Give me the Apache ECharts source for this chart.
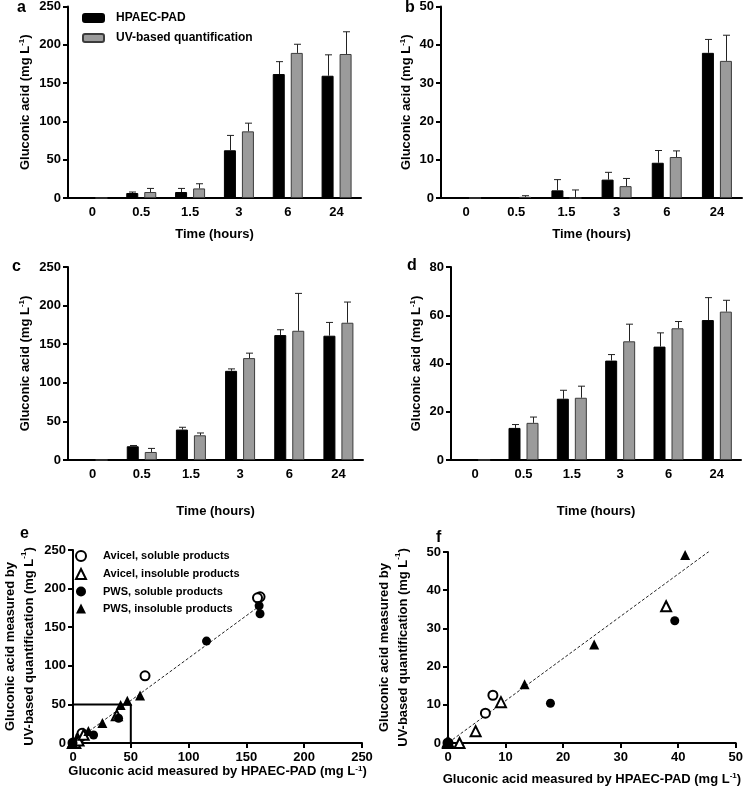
<!DOCTYPE html>
<html><head><meta charset="utf-8">
<script src="https://cdn.jsdelivr.net/npm/echarts@6/dist/echarts.min.js"></script>
<style>html,body{margin:0;padding:0;background:#fff}#c{width:746px;height:793px}</style>
</head><body><div id="c"></div>
<script>
const categories = ['0', '0.5', '1.5', '3', '6', '24'];
// panel a (Avicel, soluble products)
const aHpaec = [0, 6.5, 7.8, 62.3, 161.8, 159.6];
const aHpaecErr = [0, 1.3, 4.7, 19.4, 16.2, 27.3];
const aUv = [0, 7.8, 12.5, 87.0, 189.4, 188.0];
const aUvErr = [0, 4.7, 6.1, 10.7, 11.3, 29.0];
// panel b (Avicel, insoluble products)
const bHpaec = [0, 0, 2.0, 4.8, 9.2, 37.9];
const bHpaecErr = [0, 0, 2.8, 1.9, 3.2, 3.5];
const bUv = [0, 0.3, 0, 3.1, 10.7, 35.8];
const bUvErr = [0, 0.3, 2.1, 2.0, 1.6, 6.7];
// panel c (PWS, soluble products)
const cHpaec = [0, 17.8, 39.4, 115.5, 161.8, 161.0];
const cHpaecErr = [0, 1.0, 3.0, 2.5, 6.9, 17.2];
const cUv = [0, 10.4, 32.0, 132.0, 167.4, 177.8];
const cUvErr = [0, 4.6, 3.0, 6.4, 48.4, 26.8];
// panel d (PWS, insoluble products)
const dHpaec = [0, 13.3, 25.4, 41.2, 47.0, 58.0];
const dHpaecErr = [0, 1.4, 3.5, 2.5, 5.7, 9.3];
const dUv = [0, 15.4, 25.8, 49.2, 54.6, 61.5];
const dUvErr = [0, 2.4, 4.8, 7.1, 2.8, 4.7];
// regression line (e, f)
const fitE = [[0, 0], [160, 176]];
const fitF = [[0.8, 0.9], [45.4, 50.2]];
const zoomBox = [[0, 50], [50, 50], [50, 0]];

const FONT = 'Liberation Sans';
const names = ['HPAEC-PAD', 'UV-based quantification'];
const scNames = ['Avicel, soluble products', 'Avicel, insoluble products', 'PWS, soluble products', 'PWS, insoluble products'];

const grids = [
  {left: 68, top: 6, width: 293, height: 192},
  {left: 441, top: 6, width: 301, height: 192},
  {left: 68, top: 267, width: 295, height: 193},
  {left: 451, top: 267, width: 290, height: 193},
  {left: 71, top: 550, width: 291, height: 193},
  {left: 448, top: 552, width: 290, height: 191}
];

const axisLine = {lineStyle: {color: '#000', width: 2}};
const axisTick = {length: 5, lineStyle: {color: '#000', width: 2}};
const lbl = {color: '#000', fontFamily: FONT, fontWeight: 'bold', fontSize: 13};
const supRich = {sup: {fontSize: 8, fontWeight: 'bold', fontFamily: FONT, color: '#000', verticalAlign: 'top', padding: [0, 0, 6, 0]}};
const nameStyle = {color: '#000', fontFamily: FONT, fontWeight: 'bold', fontSize: 13, rich: supRich};
const nameStyle2 = {color: '#000', fontFamily: FONT, fontWeight: 'bold', fontSize: 13, lineHeight: 19, rich: supRich};

function catAxis(gi, gap) {
  return {type: 'category', gridIndex: gi, data: categories, axisLine, axisTick: Object.assign({alignWithLabel: true}, axisTick),
    axisLabel: Object.assign({margin: 8}, lbl), name: 'Time (hours)', nameLocation: 'middle', nameGap: gap,
    nameTextStyle: nameStyle};
}
function valAxis(gi, max, interval, name, gap, ns) {
  return {type: 'value', gridIndex: gi, min: 0, max, interval, axisLine: Object.assign({show: true}, axisLine),
    axisTick: Object.assign({show: true}, axisTick), splitLine: {show: false},
    axisLabel: Object.assign({margin: 7}, lbl), name, nameLocation: 'middle', nameGap: gap, nameTextStyle: ns || nameStyle};
}

const yName = 'Gluconic acid (mg L{sup|-1})';
const xAxes = [catAxis(0, 30), catAxis(1, 30), catAxis(2, 45), catAxis(3, 45),
  {type: 'value', gridIndex: 4, min: 0, max: 250, interval: 50, axisLine, axisTick, splitLine: {show: false},
    axisLabel: Object.assign({margin: 8}, lbl), name: 'Gluconic acid measured by HPAEC-PAD (mg L{sup|-1})',
    nameLocation: 'middle', nameGap: 13, nameTextStyle: nameStyle},
  {type: 'value', gridIndex: 5, min: 0, max: 50, interval: 10, axisLine, axisTick, splitLine: {show: false},
    axisLabel: Object.assign({margin: 8}, lbl), name: 'Gluconic acid measured by HPAEC-PAD (mg L{sup|-1})',
    nameLocation: 'middle', nameGap: 29, nameTextStyle: nameStyle}];
const yName2 = 'Gluconic acid measured by\nUV-based quantification (mg L{sup|-1})';
const yAxes = [valAxis(0, 250, 50, yName, 36), valAxis(1, 50, 10, yName, 28),
  valAxis(2, 250, 50, yName, 36), valAxis(3, 80, 20, yName, 28),
  valAxis(4, 250, 50, yName2, 34, nameStyle2), valAxis(5, 50, 10, yName2, 35, nameStyle2)];

const blackStyle = {color: '#000', borderColor: '#000', borderWidth: 1};
const grayStyle = {color: '#9b9b9b', borderColor: '#3c3c3c', borderWidth: 1};

function bar(gi, name, vals, style) {
  return {type: 'bar', name, xAxisIndex: gi, yAxisIndex: gi, data: vals, barWidth: 12, barGap: '50%',
    itemStyle: style, silent: true, animation: false};
}
function err(gi, vals, errs, offset) {
  return {type: 'custom', xAxisIndex: gi, yAxisIndex: gi, animation: false, silent: true, z: 5,
    data: vals.map((v, i) => [i, v, v + errs[i], errs[i]]),
    encode: {x: 0, y: [1, 2]},
    renderItem: function (params, api) {
      if (api.value(3) <= 0) return null;
      const p0 = api.coord([api.value(0), api.value(1)]);
      const p1 = api.coord([api.value(0), api.value(2)]);
      const x = Math.round(p0[0] + offset) + 0.5;
      const st = {stroke: '#222', lineWidth: 1};
      return {type: 'group', children: [
        {type: 'line', shape: {x1: x, y1: p0[1], x2: x, y2: p1[1]}, style: st},
        {type: 'line', shape: {x1: x - 3.5, y1: p1[1], x2: x + 3.5, y2: p1[1]}, style: st}
      ]};
    }};
}

const panels = [[aHpaec, aHpaecErr, aUv, aUvErr], [bHpaec, bHpaecErr, bUv, bUvErr],
  [cHpaec, cHpaecErr, cUv, cUvErr], [dHpaec, dHpaecErr, dUv, dUvErr]];
const series = [];
panels.forEach((p, gi) => {
  series.push(bar(gi, names[0], p[0], blackStyle));
  series.push(bar(gi, names[1], p[2], grayStyle));
  series.push(err(gi, p[0], p[1], -9));
  series.push(err(gi, p[2], p[3], 9));
});

const scStyles = [
  {symbol: 'circle', itemStyle: {color: '#fff', borderColor: '#000', borderWidth: 2, opacity: 1}},
  {symbol: 'triangle', itemStyle: {color: '#fff', borderColor: '#000', borderWidth: 2, opacity: 1}},
  {symbol: 'circle', itemStyle: {color: '#000', borderColor: '#000', borderWidth: 0, opacity: 1}},
  {symbol: 'triangle', itemStyle: {color: '#000', borderColor: '#000', borderWidth: 0, opacity: 1}}
];
[4, 5].forEach(gi => {
  series.push({type: 'line', xAxisIndex: gi, yAxisIndex: gi, data: gi === 4 ? fitE : fitF, symbol: 'none',
    lineStyle: {color: '#222', width: 1, type: [3, 2]}, silent: true, animation: false, z: 1});
  if (gi === 4) series.push({type: 'line', xAxisIndex: gi, yAxisIndex: gi, data: zoomBox, symbol: 'none',
    lineStyle: {color: '#000', width: 2}, silent: true, animation: false, z: 1});
  panels.forEach((p, k) => {
    series.push({type: 'scatter', name: scNames[k], xAxisIndex: gi, yAxisIndex: gi,
      data: p[0].map((v, i) => [v, p[2][i]]), symbol: scStyles[k].symbol,
      symbolSize: scStyles[k].symbol === 'triangle' ? 10 : 9, itemStyle: scStyles[k].itemStyle,
      silent: true, animation: false, z: 3});
  });
});

const letter = (t, x, y) => ({type: 'text', left: x, top: y, style: {text: t, font: 'bold 16px "Liberation Sans"', fill: '#000'}});

const chart = echarts.init(document.getElementById('c'), null, {renderer: 'canvas'});
chart.setOption({
  backgroundColor: '#fff',
  animation: false,
  grid: grids,
  xAxis: xAxes,
  yAxis: yAxes,
  legend: [
    {data: names, left: 77, top: 7, orient: 'vertical', itemWidth: 21, itemHeight: 8, itemGap: 8,
      textStyle: {color: '#000', fontFamily: FONT, fontWeight: 'bold', fontSize: 12, padding: [0, 0, 0, 7]}, selectedMode: false},
    {data: scNames, left: 70, top: 545, orient: 'vertical', itemWidth: 10, itemHeight: 10, itemGap: 6,
      textStyle: {color: '#000', fontFamily: FONT, fontWeight: 'bold', fontSize: 11, padding: [0, 0, 0, 12]}, selectedMode: false}
  ],
  graphic: [letter('a', 17, 0), letter('b', 405, 0), letter('c', 12, 259), letter('d', 407, 258),
    letter('e', 20, 526), letter('f', 436, 530)],
  series
});
</script></body></html>
